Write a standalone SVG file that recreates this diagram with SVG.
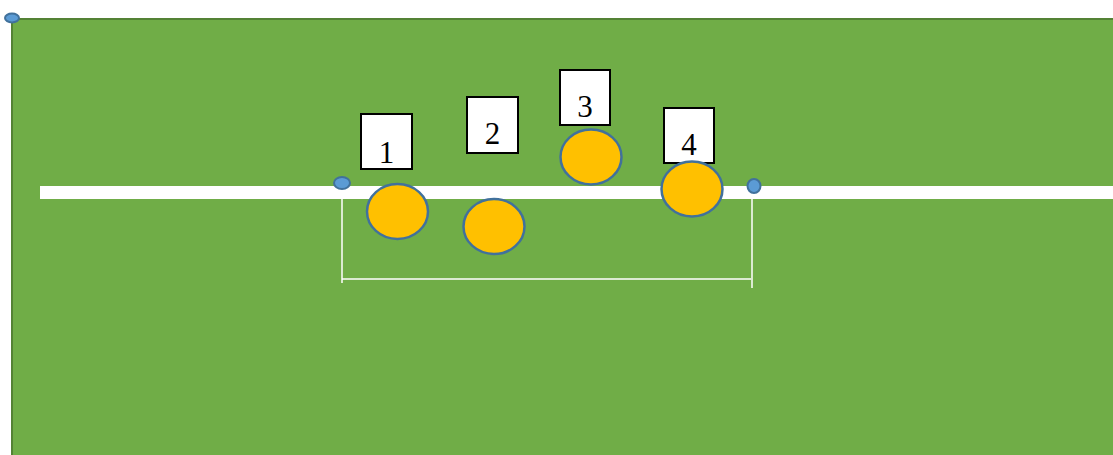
<svg xmlns="http://www.w3.org/2000/svg" width="1113" height="455" viewBox="0 0 1113 455">
<style>
.box{fill:#fff;stroke:#000;stroke-width:2}
.ball{fill:#FFC000;stroke:#41719C;stroke-width:2.5}
.dot{fill:#5B9BD5;stroke:#41719C;stroke-width:2}
.lbl{font-family:"Liberation Serif",serif;font-size:31px;fill:#000;text-anchor:middle}
.ln{stroke:#fff;stroke-width:1.5;fill:none}
</style>
<rect x="0" y="0" width="1113" height="455" fill="#fff"/>
<g id="field">
<rect x="12" y="19" width="1110" height="450" fill="#70AD47" stroke="#548235" stroke-width="2"/>
<rect x="40" y="186" width="1073" height="13" fill="#fff"/>
</g>
<g id="corner-dot"><ellipse class="dot" cx="12" cy="18" rx="7" ry="4.5"/></g>
<g id="connectors">
<line class="ln" x1="342" y1="190" x2="342" y2="283"/>
<line class="ln" x1="752" y1="192" x2="752" y2="288"/>
<line class="ln" x1="342" y1="279" x2="751" y2="279"/>
</g>
<g id="marker-left"><ellipse class="dot" cx="342" cy="183" rx="8" ry="6"/></g>
<g id="marker-right"><ellipse class="dot" cx="754" cy="186" rx="6.5" ry="7"/></g>
<g id="box1"><rect class="box" x="361" y="114" width="51" height="55"/><text class="lbl" x="386.5" y="163">1</text></g>
<g id="box2"><rect class="box" x="467" y="97" width="51" height="56"/><text class="lbl" x="492.5" y="144">2</text></g>
<g id="box3"><rect class="box" x="560" y="70" width="50" height="55"/><text class="lbl" x="585" y="117">3</text></g>
<g id="box4"><rect class="box" x="664" y="108" width="50" height="55"/><text class="lbl" x="689" y="155">4</text></g>
<g id="ball1"><ellipse class="ball" cx="397.5" cy="211.5" rx="30.5" ry="27.5"/></g>
<g id="ball2"><ellipse class="ball" cx="494" cy="226.5" rx="30.5" ry="27.5"/></g>
<g id="ball3"><ellipse class="ball" cx="591" cy="157" rx="30.5" ry="27.5"/></g>
<g id="ball4"><ellipse class="ball" cx="692" cy="189" rx="30.5" ry="27.5"/></g>
</svg>
